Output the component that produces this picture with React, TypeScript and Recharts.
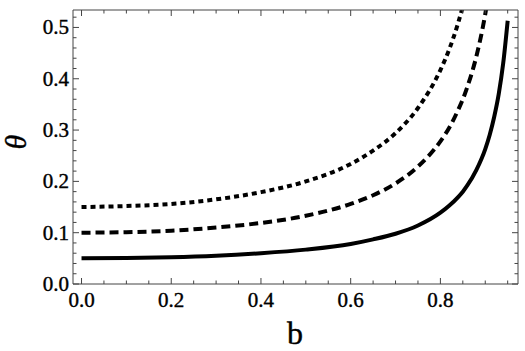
import { Customized, Line, LineChart, XAxis, YAxis } from 'recharts';

// sample points along b, with theta for the three initial values
const bValues = [
  0, 0.1, 0.2, 0.3, 0.4, 0.5, 0.6, 0.65, 0.7, 0.75, 0.8, 0.82, 0.84, 0.85, 0.86, 0.88, 0.9, 0.91, 0.92,
  0.93, 0.94, 0.95,
];
const thetaSolid = [
  0.05, 0.0505, 0.052, 0.055, 0.06, 0.067, 0.078, 0.087, 0.098, 0.114, 0.139, 0.153, 0.17, 0.18, 0.192,
  0.222, 0.263, 0.291, 0.326, 0.37, 0.43, 0.513,
];
const thetaDashed = [
  0.1, 0.101, 0.104, 0.11, 0.119, 0.133, 0.156, 0.173, 0.196, 0.229, 0.278, 0.305, 0.34, 0.36, 0.384,
  0.443, 0.526, 0.581, null, null, null, null,
];
const thetaDotted = [
  0.15, 0.152, 0.156, 0.165, 0.179, 0.2, 0.234, 0.26, 0.294, 0.343, 0.417, 0.458, 0.51, 0.541, 0.576,
  null, null, null, null, null, null, null,
];

const xTicks = [
  0, 0.05, 0.1, 0.15, 0.2, 0.25, 0.3, 0.35, 0.4, 0.45, 0.5, 0.55, 0.6, 0.65, 0.7, 0.75, 0.8, 0.85, 0.9,
  0.95,
];
const xMajor = [0, 0.2, 0.4, 0.6, 0.8];
const yTicks = [
  0, 0.02, 0.04, 0.06, 0.08, 0.1, 0.12, 0.14, 0.16, 0.18, 0.2, 0.22, 0.24, 0.26, 0.28, 0.3, 0.32, 0.34,
  0.36, 0.38, 0.4, 0.42, 0.44, 0.46, 0.48, 0.5, 0.52,
];
const yMajor = [0, 0.1, 0.2, 0.3, 0.4, 0.5];

const data = bValues.map((b, i) => ({
  b,
  solid: thetaSolid[i],
  dashed: thetaDashed[i],
  dotted: thetaDotted[i],
}));

const serif = "'Liberation Serif', 'Times New Roman', Times, serif";
const frameColor = '#444';

const inList = (list: number[], v: number) => list.some((m) => Math.abs(m - v) < 1e-6);

type TickProps = { x: number; y: number; payload: { value: number }; side: string; labelled: boolean };

// inward tick marks on all four frame sides, numbers only at the majors
function FrameTick({ x, y, payload, side, labelled }: TickProps) {
  const v = payload.value;
  const horizontal = side === 'bottom' || side === 'top';
  const major = inList(horizontal ? xMajor : yMajor, v);
  const len = major ? 6 : 3.5;
  let line;
  if (side === 'bottom') line = <line x1={x} y1={y} x2={x} y2={y - len} />;
  else if (side === 'top') line = <line x1={x} y1={y} x2={x} y2={y + len} />;
  else if (side === 'left') line = <line x1={x} y1={y} x2={x + len} y2={y} />;
  else line = <line x1={x} y1={y} x2={x - len} y2={y} />;

  const textStyle = { fontFamily: serif, fontSize: 21 };
  return (
    <g stroke={frameColor} strokeWidth={1}>
      {line}
      {labelled && major && side === 'bottom' && (
        <text x={x} y={y + 23} textAnchor="middle" style={textStyle} fill="#000" stroke="#000" strokeWidth={0.4}>
          {v.toFixed(1)}
        </text>
      )}
      {labelled && major && side === 'left' && (
        <text x={x - 4} y={y + 7} textAnchor="end" style={textStyle} fill="#000" stroke="#000" strokeWidth={0.4}>
          {v.toFixed(1)}
        </text>
      )}
    </g>
  );
}

function AxisTitles() {
  return (
    <g fill="#000" stroke="#000" strokeWidth={0.4}>
      <text x={295} y={344} textAnchor="middle" style={{ fontFamily: serif, fontSize: 32 }}>
        b
      </text>
      <text
        x={26}
        y={142}
        textAnchor="middle"
        style={{ fontFamily: serif, fontSize: 30, fontStyle: 'italic' }}
        transform="rotate(-90, 26, 142)"
      >
        θ
      </text>
    </g>
  );
}

export default function App() {
  return (
    <div style={{ position: 'absolute', left: 0, top: 0, width: 525, height: 351, background: '#fff' }}>
      <LineChart width={525} height={351} data={data} margin={{ top: 9, right: 6, bottom: 66, left: 72 }}>
        <XAxis
          xAxisId="bottom"
          dataKey="b"
          type="number"
          domain={[-0.019, 0.973]}
          ticks={xTicks}
          allowDataOverflow
          height={1}
          tickSize={0}
          tickMargin={0}
          axisLine={{ stroke: frameColor }}
          tickLine={false}
          interval={0}
          tick={(p: any) => <FrameTick {...p} side="bottom" labelled />}
        />
        <XAxis
          xAxisId="top"
          orientation="top"
          dataKey="b"
          type="number"
          domain={[-0.019, 0.973]}
          ticks={xTicks}
          allowDataOverflow
          height={1}
          tickSize={0}
          tickMargin={0}
          axisLine={{ stroke: frameColor }}
          tickLine={false}
          interval={0}
          tick={(p: any) => <FrameTick {...p} side="top" labelled={false} />}
        />
        <YAxis
          yAxisId="left"
          type="number"
          domain={[0, 0.534]}
          ticks={yTicks}
          allowDataOverflow
          width={1}
          tickSize={0}
          tickMargin={0}
          axisLine={{ stroke: frameColor }}
          tickLine={false}
          interval={0}
          tick={(p: any) => <FrameTick {...p} side="left" labelled />}
        />
        <YAxis
          yAxisId="right"
          orientation="right"
          type="number"
          domain={[0, 0.534]}
          ticks={yTicks}
          allowDataOverflow
          width={1}
          tickSize={0}
          tickMargin={0}
          axisLine={{ stroke: frameColor }}
          tickLine={false}
          interval={0}
          tick={(p: any) => <FrameTick {...p} side="right" labelled={false} />}
        />
        <Line
          xAxisId="bottom"
          yAxisId="left"
          type="monotone"
          dataKey="solid"
          stroke="#000"
          strokeWidth={4}
          dot={false}
          isAnimationActive={false}
        />
        <Line
          xAxisId="bottom"
          yAxisId="left"
          type="monotone"
          dataKey="dashed"
          stroke="#000"
          strokeWidth={4}
          strokeDasharray="9 5"
          dot={false}
          isAnimationActive={false}
        />
        <Line
          xAxisId="bottom"
          yAxisId="left"
          type="monotone"
          dataKey="dotted"
          stroke="#000"
          strokeWidth={4}
          strokeDasharray="5 4"
          dot={false}
          isAnimationActive={false}
        />
        <Customized component={AxisTitles} />
      </LineChart>
    </div>
  );
}
